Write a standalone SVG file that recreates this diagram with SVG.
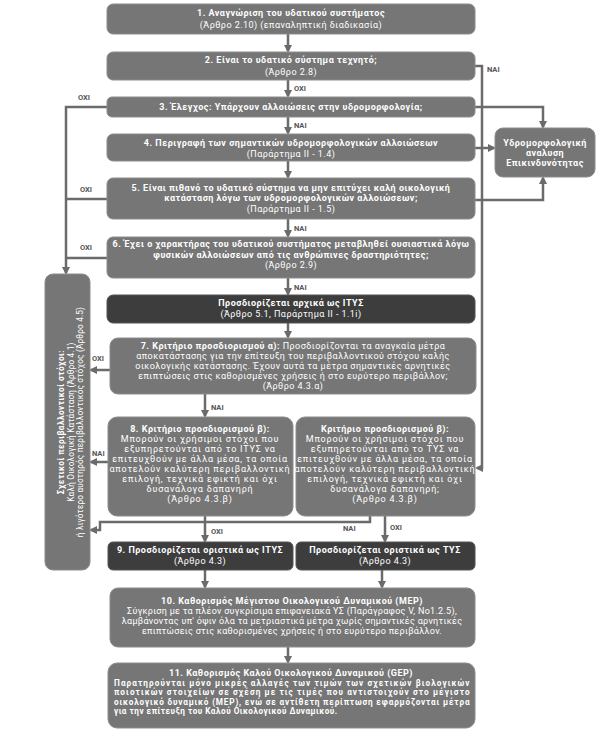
<svg xmlns="http://www.w3.org/2000/svg" width="602" height="737" viewBox="0 0 602 737">
<style>
.box{fill:#767676;stroke:#8c8c8c;stroke-width:1}
.dark{fill:#3d3d3d;stroke:#555;stroke-width:1}
.t{font-family:Roboto,"Open Sans",sans-serif;font-size:9px;fill:#fff;text-anchor:middle;letter-spacing:0.45px}
.s{font-size:8.2px;letter-spacing:0.2px}
.b{font-weight:bold;letter-spacing:0.5px}
.w{letter-spacing:0.8px}
.n{letter-spacing:0.3px}
.lbl{font-family:Roboto,"Open Sans",sans-serif;font-size:7.5px;fill:#555;font-weight:bold}
.ln{stroke:#6b6b6b;stroke-width:2.5;fill:none}
.ar{marker-end:url(#ah)}
</style>
<defs>
<marker id="ah" markerWidth="8" markerHeight="8" refX="6" refY="4" orient="auto" markerUnits="userSpaceOnUse"><path d="M0,0 L8,4 L0,8 z" fill="#6b6b6b"/></marker>
</defs>
<rect width="602" height="737" fill="#fff"/>
<g id="connectors">
<path class="ln ar" d="M288,34 V51"/>
<path class="ln ar" d="M288,80 V96"/>
<path class="ln ar" d="M288,117 V133"/>
<path class="ln ar" d="M288,161 V177"/>
<path class="ln ar" d="M288,219 V236"/>
<path class="ln ar" d="M288,278 V294"/>
<path class="ln ar" d="M288,323 V337"/>
<path class="ln ar" d="M205,394 V416"/>
<path class="ln ar" d="M205,516 V541"/>
<path class="ln ar" d="M385,516 V541"/>
<path class="ln ar" d="M205,570 V587"/>
<path class="ln ar" d="M382,570 V587"/>
<path class="ln ar" d="M288,647 V662"/>
<path class="ln ar" d="M475,66 H482 V468 H477"/>
<path class="ln ar" d="M475,107 H543 V127"/>
<path class="ln ar" d="M475,148 H494"/>
<path class="ln ar" d="M475,200 H543 V178"/>
<path class="ln ar" d="M107,107 H66 V273"/>
<path class="ln" d="M107,199 H66"/>
<path class="ln" d="M107,258 H66"/>
<path class="ln ar" d="M110,370 H91"/>
<path class="ln ar" d="M108,462 H91"/>
<path class="ln ar" d="M370,516 V522 H100 V530 H91"/>
<text class="lbl" x="294" y="91">ΟΧΙ</text>
<text class="lbl" x="294" y="128">ΝΑΙ</text>
<text class="lbl" x="294" y="231">ΝΑΙ</text>
<text class="lbl" x="294" y="290">ΝΑΙ</text>
<text class="lbl" x="211" y="410">ΝΑΙ</text>
<text class="lbl" x="211" y="534">ΟΧΙ</text>
<text class="lbl" x="390" y="530">ΟΧΙ</text>
<text class="lbl" x="343" y="531">ΝΑΙ</text>
<text class="lbl" x="487" y="72">ΝΑΙ</text>
<text class="lbl" x="78" y="100">ΟΧΙ</text>
<text class="lbl" x="80" y="192">ΟΧΙ</text>
<text class="lbl" x="80" y="250">ΟΧΙ</text>
<text class="lbl" x="92" y="361">ΟΧΙ</text>
<text class="lbl" x="92" y="456">ΝΑΙ</text>
</g>
<g id="n1"><rect class="box" x="107" y="4" width="368" height="30" rx="6"/>
<text class="t b" x="291" y="16">1. Αναγνώριση του υδατικού συστήματος</text>
<text class="t" x="291" y="28">(Άρθρο 2.10) (επαναληπτική διαδικασία)</text></g>
<g id="n2"><rect class="box" x="107" y="52" width="368" height="28" rx="6"/>
<text class="t b" x="291" y="63">2. Είναι το υδατικό σύστημα τεχνητό;</text>
<text class="t" x="291" y="74.5">(Άρθρο 2.8)</text></g>
<g id="n3"><rect class="box" x="107" y="97" width="368" height="20" rx="5"/>
<text class="t b" x="291" y="110">3. Έλεγχος: Υπάρχουν αλλοιώσεις στην υδρομορφολογία;</text></g>
<g id="n4"><rect class="box" x="107" y="134" width="368" height="27" rx="6"/>
<text class="t b" x="291" y="145.5">4. Περιγραφή των σημαντικών υδρομορφολογικών αλλοιώσεων</text>
<text class="t" x="291" y="156.5">(Παράρτημα II - 1.4)</text></g>
<g id="n5"><rect class="box" x="107" y="178" width="368" height="41" rx="6"/>
<text class="t b" x="291" y="190.5">5. Είναι πιθανό το υδατικό σύστημα να μην επιτύχει καλή οικολογική</text>
<text class="t b" x="291" y="201">κατάσταση λόγω των υδρομορφολογικών αλλοιώσεων;</text>
<text class="t" x="291" y="211.5">(Παράρτημα II - 1.5)</text></g>
<g id="n6"><rect class="box" x="107" y="237" width="368" height="41" rx="6"/>
<text class="t b" x="291" y="247">6. Έχει ο χαρακτήρας του υδατικού συστήματος μεταβληθεί ουσιαστικά λόγω</text>
<text class="t b" x="291" y="257.5">φυσικών αλλοιώσεων από τις ανθρώπινες δραστηριότητες;</text>
<text class="t" x="291" y="268">(Άρθρο 2.9)</text></g>
<g id="n_ityS"><rect class="dark" x="107" y="295" width="368" height="28" rx="6"/>
<text class="t b" x="291" y="305.5">Προσδιορίζεται αρχικά ως ΙΤΥΣ</text>
<text class="t" x="291" y="316.5">(Άρθρο 5.1, Παράρτημα II - 1.1i)</text></g>
<g id="n7"><rect class="box" x="110" y="338" width="366" height="56" rx="8"/>
<text class="t" x="293" y="348.5"><tspan class="b">7. Κριτήριο προσδιορισμού α):</tspan> Προσδιορίζονται τα αναγκαία μέτρα</text>
<text class="t" x="293" y="358.5">αποκατάστασης για την επίτευξη του περιβαλλοντικού στόχου καλής</text>
<text class="t" x="293" y="368.5">οικολογικής κατάστασης. Έχουν αυτά τα μέτρα σημαντικές αρνητικές</text>
<text class="t" x="293" y="378.5">επιπτώσεις στις καθορισμένες χρήσεις ή στο ευρύτερο περιβάλλον;</text>
<text class="t" x="293" y="388.5">(Άρθρο 4.3.α)</text></g>
<g id="n8a"><rect class="box" x="108" y="417" width="185" height="99" rx="9"/>
<text class="t b" x="200" y="432">8. Κριτήριο προσδιορισμού β):</text>
<text class="t w" x="200" y="442">Μπορούν οι χρήσιμοι στόχοι που</text>
<text class="t w" x="200" y="452">εξυπηρετούνται από το ΙΤΥΣ να</text>
<text class="t w" x="200" y="462">επιτευχθούν με άλλα μέσα, τα οποία</text>
<text class="t w" x="200" y="472">αποτελούν καλύτερη περιβαλλοντική</text>
<text class="t w" x="200" y="482">επιλογή, τεχνικά εφικτή και όχι</text>
<text class="t w" x="200" y="492">δυσανάλογα δαπανηρή</text>
<text class="t w" x="200" y="502">(Άρθρο 4.3.β)</text></g>
<g id="n8b"><rect class="box" x="296" y="417" width="179" height="99" rx="9"/>
<text class="t b" x="385" y="432">Κριτήριο προσδιορισμού β):</text>
<text class="t w" x="385" y="442">Μπορούν οι χρήσιμοι στόχοι  που</text>
<text class="t w" x="385" y="452">εξυπηρετούνται από το ΤΥΣ να</text>
<text class="t w" x="385" y="462">επιτευχθούν με άλλα μέσα, τα οποία</text>
<text class="t w" x="385" y="472">αποτελούν καλύτερη περιβαλλοντική</text>
<text class="t w" x="385" y="482">επιλογή, τεχνικά εφικτή και όχι</text>
<text class="t w" x="385" y="492">δυσανάλογα δαπανηρή;</text>
<text class="t w" x="385" y="502">(Άρθρο 4.3.β)</text></g>
<g id="n9"><rect class="dark" x="108" y="542" width="185" height="28" rx="5"/>
<text class="t b" x="200" y="553">9. Προσδιορίζεται οριστικά ως ΙΤΥΣ</text>
<text class="t" x="200" y="564">(Άρθρο 4.3)</text></g>
<g id="n9b"><rect class="dark" x="296" y="542" width="179" height="28" rx="5"/>
<text class="t b" x="385" y="553">Προσδιορίζεται οριστικά ως ΤΥΣ</text>
<text class="t" x="385" y="564">(Άρθρο 4.3)</text></g>
<g id="n10"><rect class="box" x="110" y="588" width="365" height="59" rx="8"/>
<text class="t b" x="292" y="604">10. Καθορισμός Μέγιστου Οικολογικού Δυναμικού (MEP)</text>
<text class="t n" x="292" y="614">Σύγκριση με τα πλέον συγκρίσιμα επιφανειακά ΥΣ (Παράγραφος V, Νο1.2.5),</text>
<text class="t n" x="292" y="624">λαμβάνοντας υπ' όψιν όλα τα μετριαστικά μέτρα χωρίς σημαντικές αρνητικές</text>
<text class="t n" x="292" y="634">επιπτώσεις στις καθορισμένες χρήσεις ή στο ευρύτερο περιβάλλον.</text></g>
<g id="n11"><rect class="box" x="108" y="663" width="367" height="65" rx="9"/>
<text class="t b" x="291" y="676">11. Καθορισμός Καλού Οικολογικού Δυναμικού (GEP)</text>
<text class="t s b" x="114" y="685.5" style="text-anchor:start" textLength="356" lengthAdjust="spacing">Παρατηρούνται μόνο μικρές αλλαγές των τιμών των σχετικών βιολογικών</text>
<text class="t s b" x="114" y="695" style="text-anchor:start" textLength="356" lengthAdjust="spacing">ποιοτικών στοιχείων σε σχέση με τις τιμές που αντιστοιχούν στο μέγιστο</text>
<text class="t s b" x="114" y="704.5" style="text-anchor:start" textLength="356" lengthAdjust="spacing">οικολογικό δυναμικό (MEP), ενώ σε αντίθετη περίπτωση εφαρμόζονται μέτρα</text>
<text class="t s b" x="114" y="714" style="text-anchor:start">για την επίτευξη του Καλού Οικολογικού Δυναμικού.</text></g>
<g id="nHaz"><rect class="box" x="495" y="128" width="100" height="49" rx="8"/>
<text class="t b" x="545" y="145.5">Υδρομορφολογική</text>
<text class="t b" x="545" y="155.5">αναλυση</text>
<text class="t b" x="545" y="165.5">Επικινδυνότητας</text></g>
<g id="nLeft"><rect class="box" x="45" y="274" width="45" height="296" rx="8"/>
<g transform="translate(68,422) rotate(-90)">
<text class="t s b" x="0" y="-4">Σχετικοί περιβαλλοντικοί στόχοι:</text>
<text class="t s" x="0" y="5.5">Καλή Οικολογική Κατάσταση (Άρθρο 4.1)</text>
<text class="t s" x="0" y="15">ή λιγότερο αυστηρός περιβαλλοντικός στόχος (Άρθρο 4.5)</text>
</g></g>
</svg>
